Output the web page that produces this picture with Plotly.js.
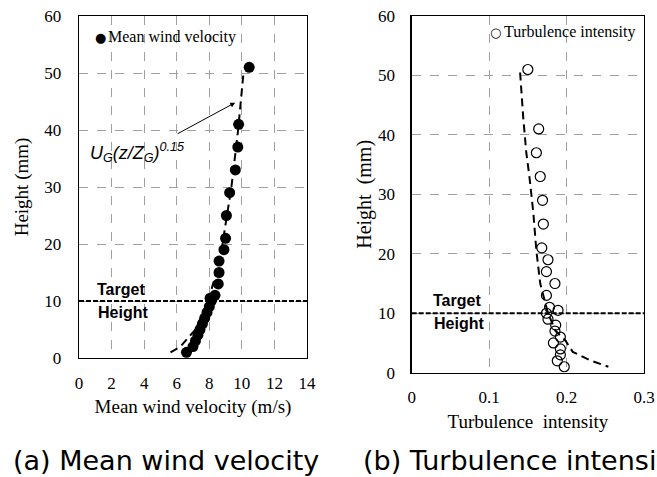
<!DOCTYPE html>
<html>
<head>
<meta charset="utf-8">
<script src="https://cdn.plot.ly/plotly-3.0.1.min.js"></script>
<style>html,body{margin:0;padding:0;background:#fff;}#chart{width:657px;height:477px;}</style>
</head>
<body>
<div id="chart"></div>
<script>
// Measured heights (mm), shared by both panels
const heights = [51, 41, 37, 33, 29, 25, 21, 19, 17, 15, 13, 11, 10.5, 10, 9, 8, 7, 6, 5, 4, 3, 2, 1];
// (a) Mean wind velocity (m/s)
const meanVelocity = [10.45, 9.8, 9.75, 9.6, 9.25, 9.05, 9.0, 8.9, 8.6, 8.6, 8.55, 8.35, 8.05, 8.12, 8.0, 7.86, 7.72, 7.58, 7.43, 7.3, 7.15, 7.0, 6.6];
// (b) Turbulence intensity
const turbIntensity = [0.150, 0.164, 0.161, 0.166, 0.169, 0.170, 0.168, 0.176, 0.174, 0.185, 0.174, 0.178, 0.189, 0.174, 0.176, 0.186, 0.185, 0.192, 0.183, 0.192, 0.192, 0.188, 0.197];
// Fitted power-law profile U_G(z/Z_G)^0.15
const fitHeightA = [1, 2, 5, 10, 15, 20, 30, 40, 50];
const fitVelocityA = [5.62, 6.23, 7.15, 7.93, 8.43, 8.81, 9.36, 9.77, 10.1];
// Dashed reference curve for turbulence intensity
const fitHeightB = [50.5, 46.5, 43, 37, 33, 27, 20.5, 15, 12.8, 10, 7, 5.5, 3.5, 2.1, 1];
const fitIntensityB = [0.140, 0.142, 0.144, 0.148, 0.152, 0.157, 0.161, 0.166, 0.170, 0.176, 0.186, 0.198, 0.208, 0.230, 0.254];
const targetHeight = 10;
const xTicksA = [0, 2, 4, 6, 8, 10, 12, 14];
const yTicks = [0, 10, 20, 30, 40, 50, 60];

const serif = 'Liberation Serif, Times New Roman, serif';
const sans = 'Liberation Sans, Arial, sans-serif';

const traces = [
  {x: fitVelocityA, y: fitHeightA, type: 'scatter', mode: 'lines', xaxis: 'x', yaxis: 'y',
   line: {color: '#000', width: 2, dash: '8px,5px'}, hoverinfo: 'skip'},
  {x: meanVelocity, y: heights, type: 'scatter', mode: 'markers', xaxis: 'x', yaxis: 'y',
   name: 'Mean wind velocity', marker: {color: '#000', size: 11, symbol: 'circle'}},
  {x: fitIntensityB, y: fitHeightB, type: 'scatter', mode: 'lines', xaxis: 'x2', yaxis: 'y2',
   line: {color: '#000', width: 2, dash: '8px,5px'}, hoverinfo: 'skip'},
  {x: turbIntensity, y: heights, type: 'scatter', mode: 'markers', xaxis: 'x2', yaxis: 'y2',
   name: 'Turbulence intensity', marker: {color: '#000', size: 10, symbol: 'circle-open', line: {color: '#000', width: 1.2}}}
];

const axisCommon = {
  showgrid: true, gridcolor: '#a0a0a0', gridwidth: 1, griddash: 'dash',
  showline: true, mirror: true, linecolor: '#000', linewidth: 1.3,
  zeroline: false, ticks: 'outside', tickcolor: 'rgba(0,0,0,0)',
  tickfont: {family: serif, size: 17, color: '#000'}
};

const layout = {
  width: 657, height: 477,
  margin: {l: 0, r: 0, t: 0, b: 0},
  paper_bgcolor: '#fff', plot_bgcolor: '#fff',
  showlegend: false,
  xaxis: Object.assign({}, axisCommon, {
    domain: [79/657, 307/657], range: [0, 14], tickvals: xTicksA, anchor: 'y', ticklen: 9,
    title: {text: 'Mean wind velocity (m/s)', font: {family: serif, size: 19, color: '#000'}, standoff: 8}
  }),
  yaxis: Object.assign({}, axisCommon, {
    domain: [(477-358)/477, (477-16)/477], range: [0, 60], tickmode: 'linear', tick0: 0, dtick: 10, anchor: 'x', ticklen: 13,
    title: {text: 'Height (mm)', font: {family: serif, size: 19, color: '#000'}, standoff: 10}
  }),
  xaxis2: Object.assign({}, axisCommon, {
    domain: [411.7/657, 644/657], range: [0, 0.3], tickmode: 'linear', tick0: 0, dtick: 0.1, anchor: 'y2', ticklen: 9,
    title: {text: 'Turbulence  intensity', font: {family: serif, size: 19, color: '#000'}, standoff: 8}
  }),
  yaxis2: Object.assign({}, axisCommon, {
    domain: [(477-372.7)/477, (477-16)/477], range: [0, 60], tickmode: 'linear', tick0: 0, dtick: 10, anchor: 'x2', ticklen: 12,
    title: {text: 'Height  (mm)', font: {family: serif, size: 20, color: '#000'}, standoff: 1}
  }),
  shapes: [
    {type: 'line', xref: 'x', yref: 'y', x0: 0, x1: 14, y0: targetHeight, y1: targetHeight,
     line: {color: '#000', width: 2, dash: '5px,2px'}},
    {type: 'line', xref: 'x2', yref: 'y2', x0: 0, x1: 0.3, y0: targetHeight, y1: targetHeight,
     line: {color: '#000', width: 2, dash: '5px,2px'}}
  ],
  annotations: [
    {xref: 'x', yref: 'y', x: 9.59, y: 44.8, ax: 5.96, ay: 39.2, axref: 'x', ayref: 'y',
     showarrow: true, arrowhead: 2, arrowsize: 1, arrowwidth: 1, arrowcolor: '#000', text: ''},
    {xref: 'x', yref: 'y', x: 3.59, y: 36, showarrow: false,
     text: '<i>U<sub>G</sub>(z/Z<sub>G</sub>)<sup>0.15</sup></i>', font: {family: sans, size: 18, color: '#000'}},
    {xref: 'x', yref: 'y', x: 2.58, y: 12.1, showarrow: false, text: '<b>Target</b>', font: {family: sans, size: 16, color: '#000'}},
    {xref: 'x', yref: 'y', x: 2.72, y: 7.9, showarrow: false, text: '<b>Height</b>', font: {family: sans, size: 16, color: '#000'}},
    {xref: 'x2', yref: 'y2', x: 0.0585, y: 12.2, showarrow: false, text: '<b>Target</b>', font: {family: sans, size: 16, color: '#000'}},
    {xref: 'x2', yref: 'y2', x: 0.0617, y: 8.36, showarrow: false, text: '<b>Height</b>', font: {family: sans, size: 16, color: '#000'}},
    {xref: 'paper', yref: 'paper', x: 100.5/657, y: (477-37)/477, xanchor: 'center', yanchor: 'middle', showarrow: false,
     text: '●', font: {family: 'DejaVu Sans', size: 13, color: '#000'}},
    {xref: 'paper', yref: 'paper', x: 106/657, y: (477-37)/477, xanchor: 'left', yanchor: 'middle', showarrow: false,
     text: 'Mean wind velocity', font: {family: serif, size: 16, color: '#000'}},
    {xref: 'paper', yref: 'paper', x: 495.5/657, y: (477-32.3)/477, xanchor: 'center', yanchor: 'middle', showarrow: false,
     text: '○', font: {family: 'DejaVu Sans', size: 13, color: '#000'}},
    {xref: 'paper', yref: 'paper', x: 502/657, y: (477-32.3)/477, xanchor: 'left', yanchor: 'middle', showarrow: false,
     text: 'Turbulence intensity', font: {family: serif, size: 16, color: '#000'}},
    {xref: 'paper', yref: 'paper', x: 11/657, y: (477-460)/477, xanchor: 'left', yanchor: 'middle', showarrow: false,
     text: '(a) Mean wind velocity', font: {family: 'DejaVu Sans', size: 27, color: '#000'}},
    {xref: 'paper', yref: 'paper', x: 361/657, y: (477-460)/477, xanchor: 'left', yanchor: 'middle', showarrow: false,
     text: '(b) Turbulence intensity', font: {family: 'DejaVu Sans', size: 27, color: '#000'}}
  ]
};

Plotly.newPlot('chart', traces, layout, {staticPlot: true, displayModeBar: false});
</script>
</body>
</html>
